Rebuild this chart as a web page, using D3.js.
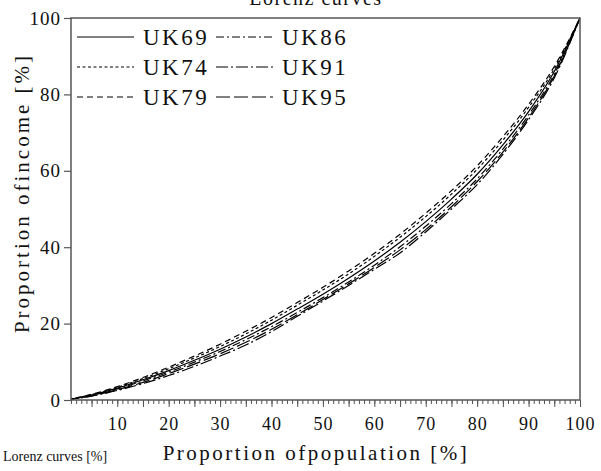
<!DOCTYPE html>
<html>
<head>
<meta charset="utf-8">
<script src="https://cdn.jsdelivr.net/npm/d3@7"></script>
<style>
  html, body { margin: 0; padding: 0; background: #fff; }
  svg { display: block; }
  svg text { font-family: "Liberation Serif", "DejaVu Serif", serif !important; fill: #111; }
</style>
</head>
<body>
<svg id="chart" width="601" height="471"></svg>
<script>
// Cumulative population share (%) at which each curve is sampled
const population = [0, 5, 10, 15, 20, 25, 30, 35, 40, 45, 50, 55, 60, 65, 70, 75, 80, 85, 90, 95, 100];

// Cumulative income share (%) for each survey year
const uk69 = [0, 1.3, 3.1, 5.3, 7.7, 10.4, 13.3, 16.5, 20.0, 23.8, 27.7, 31.9, 36.4, 41.3, 46.7, 52.6, 59.1, 66.8, 75.5, 86.0, 100];
const uk74 = [0, 1.4, 3.3, 5.6, 8.2, 11.0, 14.0, 17.3, 20.9, 24.8, 28.8, 33.0, 37.6, 42.6, 48.0, 53.9, 60.4, 68.0, 76.6, 86.7, 100];
const uk79 = [0, 1.5, 3.5, 5.9, 8.6, 11.5, 14.6, 18.0, 21.6, 25.5, 29.5, 33.8, 38.4, 43.4, 48.9, 54.8, 61.3, 68.9, 77.4, 87.3, 100];
const uk86 = [0, 1.2, 2.9, 5.0, 7.3, 9.9, 12.7, 15.8, 19.2, 22.9, 26.8, 30.9, 35.3, 40.1, 45.5, 51.4, 57.9, 65.7, 74.6, 85.3, 100];
const uk91 = [0, 1.0, 2.5, 4.3, 6.4, 8.8, 11.5, 14.4, 17.9, 21.9, 25.9, 30.0, 34.2, 38.5, 44.0, 50.0, 56.4, 64.3, 73.4, 84.3, 100];
const uk95 = [0, 1.1, 2.7, 4.6, 6.9, 9.4, 12.1, 15.1, 18.5, 22.3, 26.3, 30.4, 34.7, 39.3, 44.6, 50.6, 57.2, 64.9, 73.9, 84.8, 100];

const seriesNames = ["UK69", "UK74", "UK79", "UK86", "UK91", "UK95"];
const seriesValues = [uk69, uk74, uk79, uk86, uk91, uk95];
const dashPatterns = ["none", "3,2.5", "6,4", "8,3,2,3", "12,3,2,3", "14,4"];

const xTickLabels = [10, 20, 30, 40, 50, 60, 70, 80, 90, 100];
const yTickLabels = [0, 20, 40, 60, 80, 100];

const serif = '"Liberation Serif", "DejaVu Serif", serif';
const svg = d3.select("#chart");
const plot = { left: 71, right: 580, top: 18, bottom: 400 };

const x = d3.scaleLinear().domain([1, 100]).range([plot.left, plot.right]);
const y = d3.scaleLinear().domain([0, 100]).range([plot.bottom, plot.top]);

svg.append("defs").append("clipPath").attr("id", "plotClip")
  .append("rect").attr("x", plot.left).attr("y", plot.top - 2)
  .attr("width", plot.right - plot.left).attr("height", plot.bottom - plot.top + 2);

// Title, mostly above the visible area
svg.append("text").attr("x", 316).attr("y", 5)
  .attr("text-anchor", "middle")
  .style("font-family", serif).style("font-size", "20px").style("letter-spacing", "1.5px")
  .text("Lorenz curves");

// Lorenz curves
const line = d3.line()
  .x((d, i) => x(population[i]))
  .y(d => y(d))
  .curve(d3.curveMonotoneX);

const curves = svg.append("g").attr("clip-path", "url(#plotClip)");
seriesValues.forEach((vals, k) => {
  curves.append("path")
    .datum(vals)
    .attr("d", line)
    .attr("fill", "none")
    .attr("stroke", "#000")
    .attr("stroke-width", 1.2)
    .attr("stroke-dasharray", dashPatterns[k]);
});

// Frame
const frameColor = "#555";
svg.append("rect").attr("x", plot.left).attr("y", plot.top)
  .attr("width", plot.right - plot.left).attr("height", plot.bottom - plot.top)
  .attr("fill", "none").attr("stroke", frameColor).attr("stroke-width", 1.5);

// X axis: minor ticks every 1, longer every 5, labels every 10
const xAxisMinor = d3.axisBottom(x).tickValues(d3.range(1, 101)).tickSize(4).tickFormat("");
const xAxisMid = d3.axisBottom(x).tickValues(d3.range(5, 101, 5)).tickSize(7).tickFormat("");
[xAxisMinor, xAxisMid].forEach(ax => {
  const g = svg.append("g").attr("transform", `translate(0,${plot.bottom})`).call(ax);
  g.select(".domain").remove();
  g.selectAll("line").attr("stroke", frameColor).attr("stroke-width", 1);
});
const xLab = svg.append("g").attr("transform", `translate(0,${plot.bottom})`)
  .call(d3.axisBottom(x).tickValues(xTickLabels).tickSize(0).tickPadding(0).tickFormat(d3.format("d")));
xLab.select(".domain").remove();
xLab.selectAll("text")
  .attr("y", 30).attr("dy", null)
  .style("font-family", serif).style("font-size", "18px").style("letter-spacing", "1px")
  .attr("fill", "#111");

// Y axis
const yAx = svg.append("g").attr("transform", `translate(${plot.left},0)`)
  .call(d3.axisLeft(y).tickValues(yTickLabels).tickSize(7).tickPadding(3).tickFormat(d3.format("d")));
yAx.select(".domain").remove();
yAx.selectAll("line").attr("stroke", frameColor).attr("stroke-width", 1.2);
yAx.selectAll("text")
  .style("font-family", serif).style("font-size", "19px").style("letter-spacing", "1px")
  .attr("fill", "#111");

// Axis titles
svg.append("text")
  .attr("transform", `translate(29,193) rotate(-90)`)
  .attr("text-anchor", "middle")
  .style("font-family", serif).style("font-size", "21px").style("letter-spacing", "3px")
  .text("Proportion ofincome [%]");

svg.append("text").attr("x", 316).attr("y", 460)
  .attr("text-anchor", "middle")
  .style("font-family", serif).style("font-size", "21px").style("letter-spacing", "2.5px")
  .text("Proportion ofpopulation [%]");

svg.append("text").attr("x", 3).attr("y", 461)
  .style("font-family", serif).style("font-size", "14px")
  .text("Lorenz curves [%]");

// Legend: two columns of three entries
const legend = svg.append("g");
seriesNames.forEach((name, k) => {
  const col = Math.floor(k / 3), row = k % 3;
  const x0 = col === 0 ? 77 : 216;
  const cy = 37 + row * 30;
  legend.append("line")
    .attr("x1", x0).attr("x2", x0 + 57).attr("y1", cy).attr("y2", cy)
    .attr("stroke", "#000").attr("stroke-width", 1)
    .attr("stroke-dasharray", dashPatterns[k]);
  legend.append("text")
    .attr("x", x0 + 66).attr("y", cy + 8)
    .style("font-family", serif).style("font-size", "23px").style("letter-spacing", "2.5px")
    .text(name);
});
</script>
</body>
</html>
